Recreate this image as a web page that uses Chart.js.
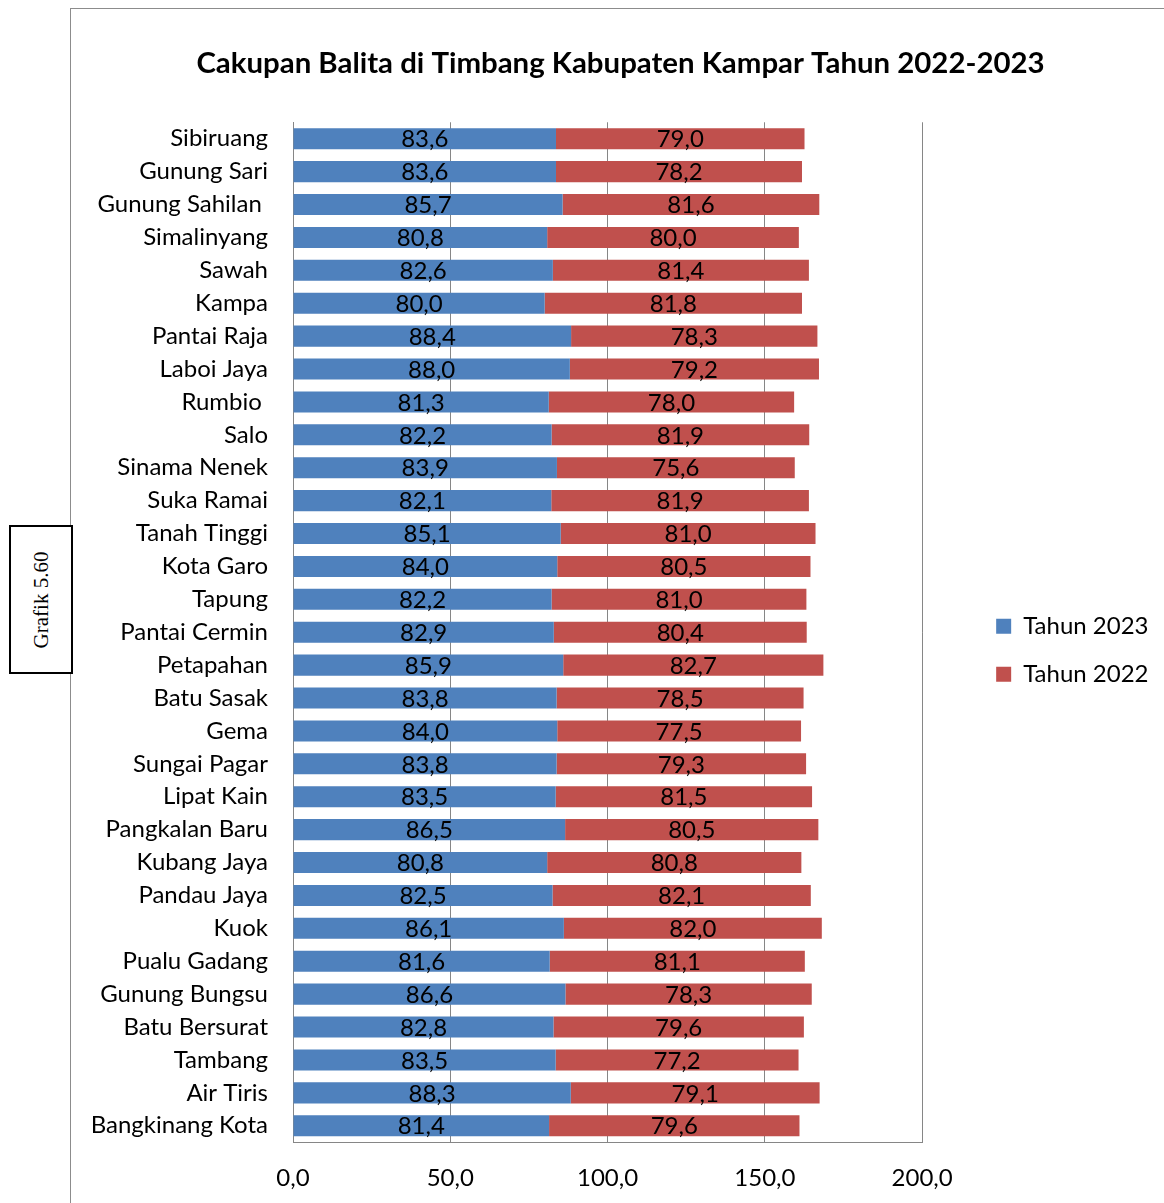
<!DOCTYPE html>
<html lang="id">
<head>
  <meta charset="UTF-8" />
  <title>Cakupan Balita di Timbang Kabupaten Kampar</title>
  <script src="https://cdn.jsdelivr.net/npm/chart.js"></script>
  <style>
    body {
      margin: 0;
      background: #fff;
      width: 1164px;
      height: 1203px;
      position: relative;
      overflow: hidden;
    }
    #frame {
      position: absolute;
      left: 70px;
      top: 8px;
      width: 1094px;
      height: 1195px;
      border-left: 1px solid #8c8c8c;
      border-top: 1px solid #8c8c8c;
    }
    #wrap {
      position: absolute;
      left: 71px;
      top: 9px;
      width: 1093px;
      height: 1194px;
    }
    #grafik {
      position: absolute;
      left: 9px;
      top: 525px;
      width: 60px;
      height: 145px;
      border: 2px solid #000;
      background: #fff;
      z-index: 2;
    }
    #grafik span {
      position: absolute;
      left: 50%;
      top: 50%;
      transform: translate(-50%, -50%) rotate(-90deg);
      white-space: nowrap;
      font-family: 'Liberation Serif', 'DejaVu Serif', serif;
      font-size: 21px;
      color: #000;
    }
  </style>
</head>
<body>
  <div id="frame"></div>
  <div id="grafik"><span>Grafik 5.60</span></div>
  <div id="wrap"><canvas id="chart"></canvas></div>

  <script>
    const categories = [
      'Sibiruang', 'Gunung Sari', 'Gunung Sahilan ', 'Simalinyang', 'Sawah', 'Kampa',
      'Pantai Raja', 'Laboi Jaya', 'Rumbio ', 'Salo', 'Sinama Nenek', 'Suka Ramai',
      'Tanah Tinggi', 'Kota Garo', 'Tapung', 'Pantai Cermin', 'Petapahan', 'Batu Sasak',
      'Gema', 'Sungai Pagar', 'Lipat Kain', 'Pangkalan Baru', 'Kubang Jaya', 'Pandau Jaya',
      'Kuok', 'Pualu Gadang', 'Gunung Bungsu', 'Batu Bersurat', 'Tambang', 'Air Tiris',
      'Bangkinang Kota'
    ];
    const tahun2023 = [
      83.6, 83.6, 85.7, 80.8, 82.6, 80.0, 88.4, 88.0, 81.3, 82.2, 83.9, 82.1,
      85.1, 84.0, 82.2, 82.9, 85.9, 83.8, 84.0, 83.8, 83.5, 86.5, 80.8, 82.5,
      86.1, 81.6, 86.6, 82.8, 83.5, 88.3, 81.4
    ];
    const tahun2022 = [
      79.0, 78.2, 81.6, 80.0, 81.4, 81.8, 78.3, 79.2, 78.0, 81.9, 75.6, 81.9,
      81.0, 80.5, 81.0, 80.4, 82.7, 78.5, 77.5, 79.3, 81.5, 80.5, 80.8, 82.1,
      82.0, 81.1, 78.3, 79.6, 77.2, 79.1, 79.6
    ];
    const xTicks = [0, 50, 100, 150, 200];

    const FONT = 'Lato, "Open Sans", sans-serif';
    const fmt = v => v.toFixed(1).replace('.', ',');

    // value labels in the middle of each bar segment
    const valueLabels = {
      id: 'valueLabels',
      afterDatasetsDraw(chart) {
        const ctx = chart.ctx;
        ctx.save();
        ctx.font = '24px ' + FONT;
        ctx.fillStyle = '#000';
        ctx.textAlign = 'center';
        ctx.textBaseline = 'middle';
        chart.data.datasets.forEach((ds, i) => {
          chart.getDatasetMeta(i).data.forEach((bar, j) => {
            const p = bar.getProps(['x', 'y', 'base'], true);
            ctx.fillText(fmt(ds.data[j]), (p.x + p.base) / 2, p.y + 1);
          });
        });
        ctx.restore();
      }
    };

    new Chart(document.getElementById('chart'), {
      type: 'bar',
      data: {
        labels: categories,
        datasets: [
          { label: 'Tahun 2023', data: tahun2023, backgroundColor: '#4f81bd' },
          { label: 'Tahun 2022', data: tahun2022, backgroundColor: '#c0504d' }
        ]
      },
      options: {
        indexAxis: 'y',
        responsive: true,
        maintainAspectRatio: false,
        animation: false,
        datasets: {
          bar: { categoryPercentage: 1, barPercentage: 0.64 }
        },
        layout: { padding: { left: 22, right: 16, top: 0, bottom: -12 } },
        scales: {
          x: {
            stacked: true,
            min: 0,
            max: 200,
            afterBuildTicks(scale) {
              scale.ticks = xTicks.map(v => ({ value: v }));
            },
            grid: { color: '#868686', drawTicks: false },
            border: { color: '#868686' },
            ticks: {
              padding: 22,
              color: '#000',
              font: { family: FONT, size: 24 },
              callback: v => fmt(v)
            }
          },
          y: {
            stacked: true,
            afterFit(scale) { scale.width = 200; },
            grid: { display: false, drawTicks: false },
            border: { color: '#868686' },
            ticks: {
              padding: 25,
              color: '#000',
              font: { family: FONT, size: 24 },
              autoSkip: false
            }
          },
          // empty space between plot and legend
          gap: {
            type: 'linear',
            axis: 'y',
            position: 'right',
            grid: { display: false, drawTicks: false },
            border: { display: false },
            ticks: { display: false },
            afterFit(scale) { scale.width = 50; }
          }
        },
        plugins: {
          title: {
            display: true,
            text: 'Cakupan Balita di Timbang Kabupaten Kampar Tahun 2022-2023',
            color: '#000',
            font: { family: FONT, size: 29.4, weight: 'bold' },
            padding: { top: 37, bottom: 41 }
          },
          legend: {
            position: 'right',
            fullSize: false,
            title: { display: true, text: '', font: { size: 10 }, padding: { top: 24, bottom: 0 } },
            labels: {
              color: '#000',
              font: { family: FONT, size: 24 },
              boxWidth: 15,
              boxHeight: 15,
              padding: 24
            }
          },
          tooltip: { enabled: false }
        }
      },
      plugins: [valueLabels]
    });
  </script>
</body>
</html>
